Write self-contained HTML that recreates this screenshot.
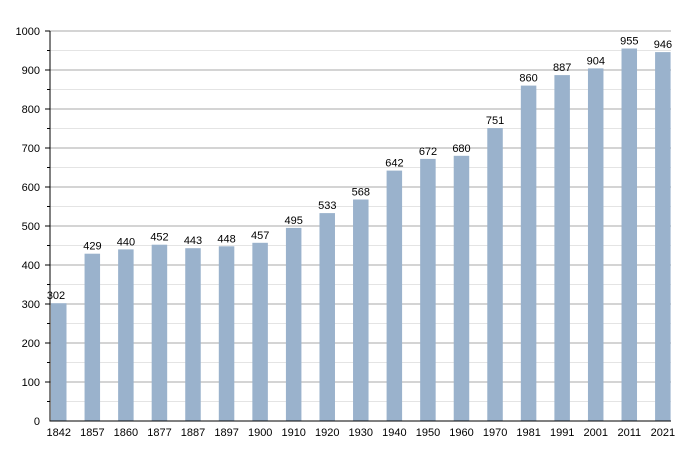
<!DOCTYPE html>
<html><head><style>body{margin:0;background:#fff}</style></head><body>
<svg width="700" height="450" xmlns="http://www.w3.org/2000/svg" font-family="Liberation Sans, Arial, sans-serif" font-size="11">
<rect width="700" height="450" fill="#fff"/>
<g stroke="#e4e4e4">
<line x1="50" x2="671" y1="401.5" y2="401.5"/><line x1="50" x2="671" y1="362.5" y2="362.5"/><line x1="50" x2="671" y1="323.5" y2="323.5"/><line x1="50" x2="671" y1="284.5" y2="284.5"/><line x1="50" x2="671" y1="245.5" y2="245.5"/><line x1="50" x2="671" y1="206.5" y2="206.5"/><line x1="50" x2="671" y1="167.5" y2="167.5"/><line x1="50" x2="671" y1="128.5" y2="128.5"/><line x1="50" x2="671" y1="89.5" y2="89.5"/><line x1="50" x2="671" y1="50.5" y2="50.5"/>
</g>
<g stroke="#a8a8a8">
<line x1="50" x2="671" y1="382" y2="382"/><line x1="50" x2="671" y1="343" y2="343"/><line x1="50" x2="671" y1="304" y2="304"/><line x1="50" x2="671" y1="265" y2="265"/><line x1="50" x2="671" y1="226" y2="226"/><line x1="50" x2="671" y1="187" y2="187"/><line x1="50" x2="671" y1="148" y2="148"/><line x1="50" x2="671" y1="109" y2="109"/><line x1="50" x2="671" y1="70" y2="70"/><line x1="50" x2="671" y1="31" y2="31"/>
</g>
<g stroke="#000">
<line x1="47" x2="50" y1="401.5" y2="401.5"/><line x1="47" x2="50" y1="362.5" y2="362.5"/><line x1="47" x2="50" y1="323.5" y2="323.5"/><line x1="47" x2="50" y1="284.5" y2="284.5"/><line x1="47" x2="50" y1="245.5" y2="245.5"/><line x1="47" x2="50" y1="206.5" y2="206.5"/><line x1="47" x2="50" y1="167.5" y2="167.5"/><line x1="47" x2="50" y1="128.5" y2="128.5"/><line x1="47" x2="50" y1="89.5" y2="89.5"/><line x1="47" x2="50" y1="50.5" y2="50.5"/>
<line x1="45" x2="50" y1="382" y2="382"/><line x1="45" x2="50" y1="343" y2="343"/><line x1="45" x2="50" y1="304" y2="304"/><line x1="45" x2="50" y1="265" y2="265"/><line x1="45" x2="50" y1="226" y2="226"/><line x1="45" x2="50" y1="187" y2="187"/><line x1="45" x2="50" y1="148" y2="148"/><line x1="45" x2="50" y1="109" y2="109"/><line x1="45" x2="50" y1="70" y2="70"/><line x1="45" x2="50" y1="31" y2="31"/>
</g>
<g text-anchor="end">
<text x="40" y="425">0</text><text x="40" y="386">100</text><text x="40" y="347">200</text><text x="40" y="308">300</text><text x="40" y="269">400</text><text x="40" y="230">500</text><text x="40" y="191">600</text><text x="40" y="152">700</text><text x="40" y="113">800</text><text x="40" y="74">900</text><text x="40" y="35">1000</text>
</g>
<g fill="#9ab2cc">
<rect x="51" y="303.2" width="15.5" height="117.8"/>
<rect x="84.56" y="253.7" width="15.5" height="167.3"/>
<rect x="118.12" y="249.4" width="15.5" height="171.6"/>
<rect x="151.68" y="244.7" width="15.5" height="176.3"/>
<rect x="185.24" y="248.2" width="15.5" height="172.8"/>
<rect x="218.8" y="246.3" width="15.5" height="174.7"/>
<rect x="252.36" y="242.8" width="15.5" height="178.2"/>
<rect x="285.92" y="227.9" width="15.5" height="193.1"/>
<rect x="319.48" y="213.1" width="15.5" height="207.9"/>
<rect x="353.04" y="199.5" width="15.5" height="221.5"/>
<rect x="386.6" y="170.6" width="15.5" height="250.4"/>
<rect x="420.16" y="158.9" width="15.5" height="262.1"/>
<rect x="453.72" y="155.8" width="15.5" height="265.2"/>
<rect x="487.28" y="128.1" width="15.5" height="292.9"/>
<rect x="520.84" y="85.6" width="15.5" height="335.4"/>
<rect x="554.4" y="75.1" width="15.5" height="345.9"/>
<rect x="587.96" y="68.4" width="15.5" height="352.6"/>
<rect x="621.52" y="48.5" width="15.5" height="372.5"/>
<rect x="655.08" y="52.1" width="15.5" height="368.9"/>
</g>
<g text-anchor="middle">
<text x="56" y="299.2">302</text>
<text x="92.4" y="249.7">429</text>
<text x="125.9" y="245.4">440</text>
<text x="159.5" y="240.7">452</text>
<text x="193.0" y="244.2">443</text>
<text x="226.6" y="242.3">448</text>
<text x="260.2" y="238.8">457</text>
<text x="293.7" y="223.9">495</text>
<text x="327.3" y="209.1">533</text>
<text x="360.8" y="195.5">568</text>
<text x="394.4" y="166.6">642</text>
<text x="428.0" y="154.9">672</text>
<text x="461.5" y="151.8">680</text>
<text x="495.1" y="124.1">751</text>
<text x="528.6" y="81.6">860</text>
<text x="562.2" y="71.1">887</text>
<text x="595.8" y="64.4">904</text>
<text x="629.3" y="44.5">955</text>
<text x="662.9" y="48.1">946</text>
</g>
<g text-anchor="middle">
<text x="58.8" y="436">1842</text><text x="92.4" y="436">1857</text><text x="125.9" y="436">1860</text><text x="159.5" y="436">1877</text><text x="193.0" y="436">1887</text><text x="226.6" y="436">1897</text><text x="260.2" y="436">1900</text><text x="293.7" y="436">1910</text><text x="327.3" y="436">1920</text><text x="360.8" y="436">1930</text><text x="394.4" y="436">1940</text><text x="428.0" y="436">1950</text><text x="461.5" y="436">1960</text><text x="495.1" y="436">1970</text><text x="528.6" y="436">1981</text><text x="562.2" y="436">1991</text><text x="595.8" y="436">2001</text><text x="629.3" y="436">2011</text><text x="662.9" y="436">2021</text>
</g>
<line x1="50" x2="50" y1="31" y2="421.5" stroke="#000"/>
<line x1="50" x2="671" y1="421" y2="421" stroke="#000"/>
</svg>
</body></html>
